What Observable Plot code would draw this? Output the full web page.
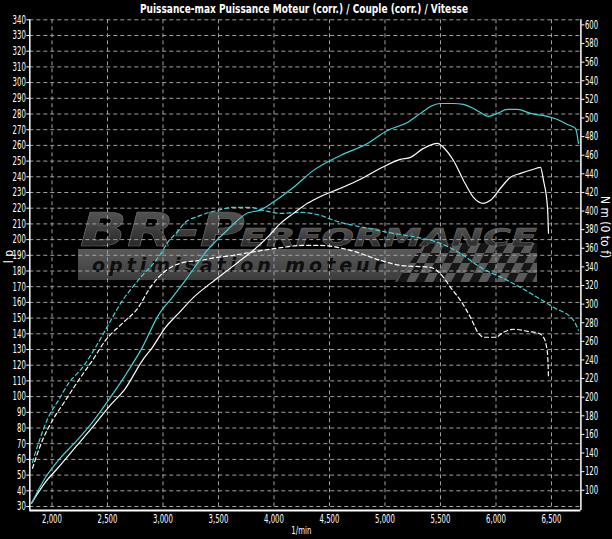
<!DOCTYPE html>
<html><head><meta charset="utf-8">
<script src="https://cdn.jsdelivr.net/npm/d3@7"></script>
<script src="https://cdn.jsdelivr.net/npm/@observablehq/plot@0.6"></script>
<style>
html,body{margin:0;padding:0;background:#000;}
</style></head><body><div id="chart"></div>
<script>
// ---- data ----
const rpmTunedPower = [1815,1941,2059,2212,2365,2509,2662,2815,2959,3086,3203,3401,3581,3761,3878,3995,4176,4356,4599,4842,5022,5202,5320,5410,5500,5617,5707,5797,5860,5932,6013,6103,6194,6311,6464,6554,6644,6716,6743];
const hpTuned = [32,48.5,59.6,71.1,83.8,97.8,113.7,131.5,151.9,163.4,174.2,193.4,206.1,216.9,218.8,223.9,233.3,244.1,253.6,261.2,269.5,274.6,280.4,284.8,286.7,286.7,286.1,283.5,281,278.5,280.4,282.9,282.9,280.4,278.5,276.5,273.3,270.8,261.3];

const rpmStockPower = [1815,1941,2059,2212,2365,2509,2662,2815,2905,3023,3140,3275,3428,3581,3698,3815,3941,4059,4176,4302,4419,4599,4779,4959,5139,5230,5347,5473,5527,5617,5707,5797,5887,5950,6040,6130,6221,6338,6401,6428,6464,6473];
const hpStock = [32,45.5,55,67.8,80.5,93.2,105.3,123.1,131.4,144.1,153,163.2,172.1,180.4,186.8,193.2,201.4,210.3,216.7,223.1,227.5,232.7,238.4,245.4,251.1,252.4,258.1,261.3,258.7,250.4,237.7,226.9,223.1,225,232.7,239.7,242.2,244.8,246,237.7,220.5,204];

const rpmTunedTorque = [1824,1878,1968,2059,2149,2275,2365,2455,2545,2635,2725,2815,2887,2986,3041,3140,3185,3338,3491,3635,3788,3905,4059,4239,4419,4536,4716,4896,5076,5293,5500,5680,5860,6103,6311,6518,6698,6743];
const nmTuned = [130,150.6,178.6,196.8,214.9,232.1,248.2,266.6,285.8,304,318,331,340,355,366,379,386,395.3,400.7,403.9,403.9,400.7,397.5,398.6,395.3,390,384.6,380.3,376,371.7,365.3,354.5,339.5,325.5,311.6,296.6,282.6,271.9];

const rpmStockTorque = [1824,1914,2005,2122,2239,2365,2482,2635,2779,2869,2959,3041,3185,3338,3491,3635,3788,4086,4239,4419,4689,4959,5139,5410,5527,5590,5680,5770,5842,5887,5995,6067,6157,6284,6383,6428,6464,6473];
const nmStock = [123.6,153.7,175.2,196.7,218.1,239.6,261.1,279.4,296.6,314.8,328.8,337.3,344.8,347,350.3,352.4,355.6,361,363.1,363.1,357.7,347,341.6,339.5,328.8,318,304.1,285.8,268.7,264.4,264.4,269.7,273,270.8,268.7,264.4,247.2,221.4];

const hpTicks = d3.range(30, 341, 10);
const nmTicks = d3.range(100, 601, 20);
const rpmTicks = [2000,2500,3000,3500,4000,4500,5000,5500,6000,6500];

const titleText = "Puissance-max Puissance Moteur (corr.) / Couple (corr.) / Vitesse";
const xLabel = "1/min";
const yLeftLabel = "l p";
const yRightLabel = "N m (0 to f)";

// torque (N m) shown on the hp scale via the right axis mapping
const toHp = nm => 336.75 - (600 - nm) * 0.5928;
const fromHp = h => (h - 336.75) / 0.5928 + 600;

const rows = (xs, vs, conv = v => v) => xs.map((r, i) => ({rpm: r, v: conv(vs[i])}));
const tunedP = rows(rpmTunedPower, hpTuned);
const stockP = rows(rpmStockPower, hpStock);
const tunedT = rows(rpmTunedTorque, nmTuned, toHp);
const stockT = rows(rpmStockTorque, nmStock, toHp);

const FONT = '"Liberation Sans Narrow","DejaVu Sans Condensed","Arial Narrow","Liberation Sans",sans-serif';
const CYAN = "#3fd6d6";
const xDomain = [1800, 6765];

const plot = Plot.plot({
  width: 612, height: 539,
  marginLeft: 29.3, marginRight: 31.6, marginTop: 19.3, marginBottom: 33,
  style: {background: "#000", color: "#fff", fontFamily: FONT, fontSize: "12px", overflow: "visible"},
  x: {domain: xDomain, axis: null},
  y: {domain: [30, 340], axis: null},
  marks: [
    Plot.gridY(hpTicks, {stroke: "#a0a0a0", strokeOpacity: 1, strokeDasharray: "4,3"}),
    Plot.gridX(rpmTicks, {stroke: "#a0a0a0", strokeOpacity: 1, strokeDasharray: "4,3"}),
    Plot.axisY(hpTicks, {anchor: "left", tickSize: 3, tickPadding: 1, label: null, fontSize: 12}),
    Plot.axisY(nmTicks.map(toHp), {anchor: "right", tickSize: 3, tickPadding: 1, label: null, fontSize: 12,
      tickFormat: d => String(Math.round(fromHp(d)))}),
    Plot.axisX(rpmTicks, {anchor: "bottom", tickSize: 0, tickPadding: 8, label: null, fontSize: 12,
      tickFormat: d => d3.format(",")(d)}),
    Plot.ruleX(xDomain, {y1: 340, y2: 30, insetBottom: -4, stroke: "#fff", strokeWidth: 1.5}),
    Plot.ruleY([30], {dy: 4, stroke: "#fff", strokeWidth: 2}),
    Plot.line(stockT, {x: "rpm", y: "v", stroke: "#fff", strokeWidth: 1.2, strokeDasharray: "4,3", curve: "monotone-x"}),
    Plot.line(tunedT, {x: "rpm", y: "v", stroke: CYAN, strokeWidth: 1.2, strokeDasharray: "4,3", curve: "monotone-x"}),
    Plot.line(stockP, {x: "rpm", y: "v", stroke: "#fff", strokeWidth: 1.2, curve: "monotone-x"}),
    Plot.line(tunedP, {x: "rpm", y: "v", stroke: CYAN, strokeWidth: 1.2, curve: "monotone-x"}),
    Plot.text([xLabel], {frameAnchor: "bottom", dx: -4, dy: 27, fill: "#fff", fontSize: 11}),
    Plot.text([yLeftLabel], {frameAnchor: "left", dx: -21, rotate: -90, fill: "#fff", fontSize: 12}),
    Plot.text([yRightLabel], {frameAnchor: "right", dx: 24, dy: -5, rotate: 90, fill: "#fff", fontSize: 12})
  ]
});

document.getElementById("chart").appendChild(plot);
const svg = d3.select(plot);

// narrow the tick labels like the condensed font of the reference
svg.selectAll('g[aria-label$="tick label"] text').each(function () {
  const s = this.textContent;
  const digits = s.replace(/[^0-9]/g, "").length;
  const commas = s.length - digits;
  d3.select(this).attr("textLength", digits * 4.4 + commas * 2.2).attr("lengthAdjust", "spacingAndGlyphs");
});
// narrow x-axis title
svg.selectAll("text").filter(function () { return this.textContent === xLabel; })
  .attr("textLength", 20).attr("lengthAdjust", "spacingAndGlyphs");

// ---- title ----
svg.append("text").attr("x", 304).attr("y", 12.5)
  .attr("text-anchor", "middle").attr("fill", "#fff")
  .attr("font-family", FONT).attr("font-weight", "bold").attr("font-size", 13)
  .attr("textLength", 328).attr("lengthAdjust", "spacingAndGlyphs")
  .text(titleText);

// ---- watermark ----
const defs = svg.append("defs");
const g1 = defs.append("linearGradient").attr("id", "lgTxt").attr("x1", 0).attr("y1", 0).attr("x2", 0).attr("y2", 1);
g1.append("stop").attr("offset", "0%").attr("stop-color", "#5e5e5e");
g1.append("stop").attr("offset", "100%").attr("stop-color", "#1c1c1c");
const g2 = defs.append("linearGradient").attr("id", "lgBar").attr("x1", 0).attr("y1", 0).attr("x2", 0).attr("y2", 1);
g2.append("stop").attr("offset", "0%").attr("stop-color", "#5a5a5a");
g2.append("stop").attr("offset", "100%").attr("stop-color", "#3c3c3c");
defs.append("clipPath").attr("id", "flagClip").append("polygon")
  .attr("points", "425,243 537,243 537,282 395,282");

const logo = svg.insert("g", ":first-child").attr("text-anchor", "start");
logo.append("rect").attr("x", 78).attr("y", 249).attr("width", 459).attr("height", 31).attr("fill", "url(#lgBar)");
const flag = logo.append("g").attr("clip-path", "url(#flagClip)")
  .append("g").attr("transform", "translate(400,243) skewX(-28)");
for (let r = 0; r < 4; r++) for (let c = 0; c < 18; c++) {
  flag.append("rect").attr("x", c * 9).attr("y", r * 10).attr("width", 9).attr("height", 10)
    .attr("fill", (r + c) % 2 ? "#161616" : "#5a5a5a");
}
logo.append("text").attr("x", 80).attr("y", 246).attr("text-anchor", "start")
  .attr("font-family", "DejaVu Sans").attr("font-weight", "bold").attr("font-style", "italic")
  .attr("font-size", 46).attr("textLength", 165).attr("lengthAdjust", "spacingAndGlyphs")
  .attr("fill", "url(#lgTxt)").attr("stroke", "#6a6a6a").attr("stroke-width", 0.6).text("BR-P");
logo.append("text").attr("x", 240).attr("y", 246).attr("text-anchor", "start")
  .attr("font-family", "DejaVu Sans").attr("font-weight", "bold").attr("font-style", "italic")
  .attr("font-size", 25).attr("textLength", 297).attr("lengthAdjust", "spacingAndGlyphs")
  .attr("fill", "url(#lgTxt)").attr("stroke", "#6a6a6a").attr("stroke-width", 0.5).text("ERFORMANCE");
logo.append("text").attr("x", 92).attr("y", 272).attr("text-anchor", "start")
  .attr("font-family", "DejaVu Sans").attr("font-weight", "bold").attr("font-style", "italic")
  .attr("font-size", 19).attr("textLength", 291).attr("lengthAdjust", "spacing")
  .attr("fill", "#0e0e0e").text("optimisation moteur");
</script>
</body></html>
